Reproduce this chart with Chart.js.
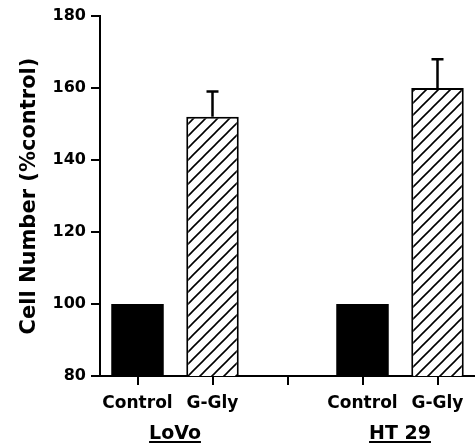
<!DOCTYPE html>
<html>
<head>
<meta charset="utf-8">
<script src="https://cdn.jsdelivr.net/npm/chart.js@4"></script>
<style>
  html, body { margin: 0; padding: 0; background: #fff; }
  #wrap { width: 475px; height: 448px; }
</style>
</head>
<body>
<div id="wrap"><canvas id="chartcanvas"></canvas></div>
<script>
const categories = ["Control", "G-Gly", "", "Control", "G-Gly"];
const cellNumber = [100, 152, null, 100, 160];
const errors = [0, 7, 0, 0, 8];
const groups = [
  { label: "LoVo", from: 0, to: 1 },
  { label: "HT 29", from: 3, to: 4 },
];
const yTicks = [80, 100, 120, 140, 160, 180];

const FONT = "'DejaVu Sans', sans-serif";

// diagonal hatch for the G-Gly bars
function hatch() {
  const c = document.createElement("canvas");
  c.width = 12;
  c.height = 12;
  const g = c.getContext("2d");
  g.fillStyle = "#fff";
  g.fillRect(0, 0, 12, 12);
  g.strokeStyle = "#000";
  g.lineWidth = 1.6;
  g.beginPath();
  g.moveTo(-2, 14); g.lineTo(14, -2);
  g.moveTo(-8, 8); g.lineTo(8, -8);
  g.moveTo(4, 20); g.lineTo(20, 4);
  g.stroke();
  return g.createPattern(c, "repeat");
}
const pattern = hatch();

const errorBars = {
  id: "errorBars",
  afterDatasetsDraw(chart) {
    const ctx = chart.ctx;
    const meta = chart.getDatasetMeta(0);
    const y = chart.scales.y;
    ctx.save();
    ctx.strokeStyle = "#000";
    ctx.lineWidth = 2.5;
    meta.data.forEach((bar, i) => {
      if (!errors[i] || cellNumber[i] == null) return;
      const top = y.getPixelForValue(cellNumber[i] + errors[i]);
      ctx.beginPath();
      ctx.moveTo(bar.x, bar.y);
      ctx.lineTo(bar.x, top);
      ctx.moveTo(bar.x - 6, top);
      ctx.lineTo(bar.x + 6, top);
      ctx.stroke();
    });
    ctx.restore();
  },
};

const groupLabels = {
  id: "groupLabels",
  afterDraw(chart) {
    const ctx = chart.ctx;
    const x = chart.scales.x;
    ctx.save();
    ctx.font = "bold 19px " + FONT;
    ctx.fillStyle = "#000";
    ctx.textAlign = "center";
    ctx.textBaseline = "alphabetic";
    groups.forEach((g) => {
      const cx = (x.getPixelForValue(g.from) + x.getPixelForValue(g.to)) / 2;
      ctx.fillText(g.label, cx, 439);
      const w = ctx.measureText(g.label).width;
      ctx.fillRect(cx - w / 2, 441, w, 2);
    });
    ctx.restore();
  },
};

const isHatched = categories.map((c) => c === "G-Gly");

const config = {
  type: "bar",
  data: {
    labels: categories,
    datasets: [
      {
        data: cellNumber,
        backgroundColor: isHatched.map((h) => (h ? pattern : "#000")),
        borderColor: "#000",
        borderWidth: isHatched.map((h) => (h ? 2 : 0)),
        barPercentage: 0.7,
        categoryPercentage: 1,
      },
    ],
  },
  options: {
    responsive: true,
    maintainAspectRatio: false,
    animation: false,
    layout: { padding: { top: 16, right: 0, left: 0, bottom: 0 } },
    plugins: {
      legend: { display: false },
      tooltip: { enabled: false },
    },
    scales: {
      x: {
        offset: true,
        grid: {
          offset: false,
          drawOnChartArea: false,
          drawTicks: true,
          tickLength: 9,
          color: "#000",
          lineWidth: 2,
        },
        border: { display: true, color: "#000", width: 2 },
        ticks: {
          color: "#000",
          padding: 8,
          maxRotation: 0,
          autoSkip: false,
          font: { family: FONT, size: 17, weight: "bold" },
        },
        afterFit(scale) {
          scale.height = 72;
        },
      },
      y: {
        min: 80,
        max: 180,
        afterBuildTicks(scale) {
          scale.ticks = yTicks.map((v) => ({ value: v }));
        },
        grid: {
          drawOnChartArea: false,
          drawTicks: true,
          tickLength: 9,
          color: "#000",
          lineWidth: 2,
        },
        border: { display: true, color: "#000", width: 2 },
        ticks: {
          color: "#000",
          padding: 5,
          font: { family: FONT, size: 16, weight: "bold" },
        },
        title: {
          display: true,
          text: "Cell Number (%control)",
          color: "#000",
          padding: { top: 17, bottom: 0 },
          font: { family: FONT, size: 21, weight: "bold" },
        },
        afterFit(scale) {
          scale.width = 100;
        },
      },
    },
  },
  plugins: [errorBars, groupLabels],
};

const chart = new Chart(document.getElementById("chartcanvas"), config);
</script>
</body>
</html>
